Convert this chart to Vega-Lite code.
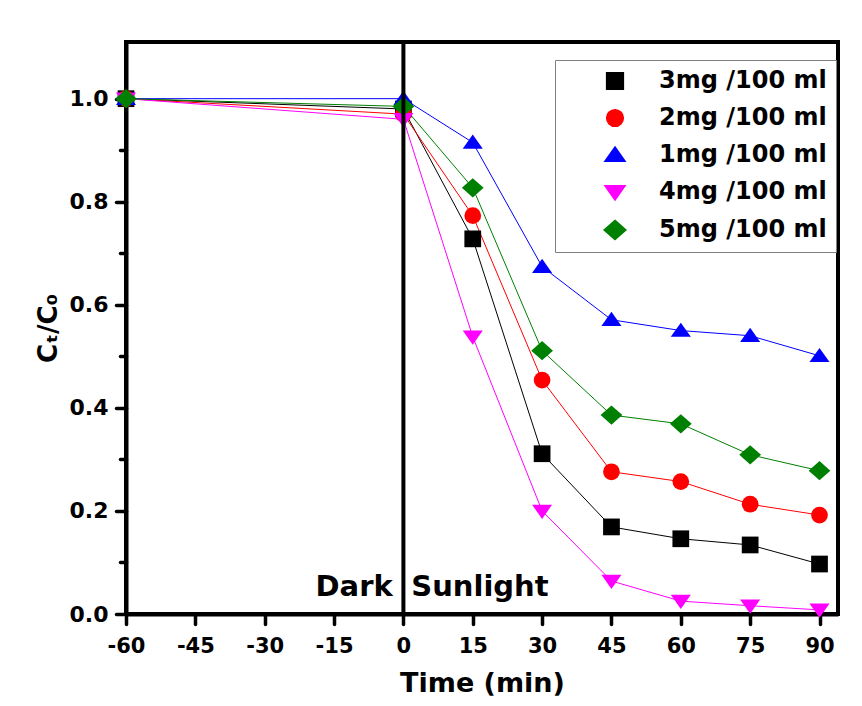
{
  "$schema": "https://vega.github.io/schema/vega-lite/v6.json",
  "width": 712,
  "height": 572,
  "autosize": "none",
  "padding": {"left": 126, "top": 42, "right": 24, "bottom": 92},
  "background": "white",
  "config": {
    "view": {"stroke": "black", "strokeWidth": 4},
    "font": "DejaVu Sans",
    "axis": {
      "domainColor": "black",
      "domainWidth": 4,
      "tickColor": "black",
      "tickWidth": 3.5,
      "tickCap": "round",
      "labelFont": "DejaVu Sans",
      "labelFontWeight": "bold",
      "labelColor": "black",
      "titleFont": "DejaVu Sans",
      "titleFontWeight": "bold",
      "titleColor": "black",
      "grid": false,
      "labelOverlap": false,
      "labelFlush": false
    }
  },
  "datasets": {
    "series": [
      {"t": -60, "c": 1.0, "s": "3mg /100 ml"},
      {"t": 0, "c": 0.98, "s": "3mg /100 ml"},
      {"t": 15, "c": 0.728, "s": "3mg /100 ml"},
      {"t": 30, "c": 0.311, "s": "3mg /100 ml"},
      {"t": 45, "c": 0.169, "s": "3mg /100 ml"},
      {"t": 60, "c": 0.146, "s": "3mg /100 ml"},
      {"t": 75, "c": 0.134, "s": "3mg /100 ml"},
      {"t": 90, "c": 0.097, "s": "3mg /100 ml"},
      {"t": -60, "c": 1.0, "s": "2mg /100 ml"},
      {"t": 0, "c": 0.97, "s": "2mg /100 ml"},
      {"t": 15, "c": 0.773, "s": "2mg /100 ml"},
      {"t": 30, "c": 0.454, "s": "2mg /100 ml"},
      {"t": 45, "c": 0.276, "s": "2mg /100 ml"},
      {"t": 60, "c": 0.257, "s": "2mg /100 ml"},
      {"t": 75, "c": 0.213, "s": "2mg /100 ml"},
      {"t": 90, "c": 0.192, "s": "2mg /100 ml"},
      {"t": -60, "c": 1.0, "s": "1mg /100 ml"},
      {"t": 0, "c": 1.0, "s": "1mg /100 ml"},
      {"t": 15, "c": 0.915, "s": "1mg /100 ml"},
      {"t": 30, "c": 0.674, "s": "1mg /100 ml"},
      {"t": 45, "c": 0.571, "s": "1mg /100 ml"},
      {"t": 60, "c": 0.55, "s": "1mg /100 ml"},
      {"t": 75, "c": 0.54, "s": "1mg /100 ml"},
      {"t": 90, "c": 0.501, "s": "1mg /100 ml"},
      {"t": -60, "c": 1.0, "s": "4mg /100 ml"},
      {"t": 0, "c": 0.96, "s": "4mg /100 ml"},
      {"t": 15, "c": 0.538, "s": "4mg /100 ml"},
      {"t": 30, "c": 0.2, "s": "4mg /100 ml"},
      {"t": 45, "c": 0.064, "s": "4mg /100 ml"},
      {"t": 60, "c": 0.025, "s": "4mg /100 ml"},
      {"t": 75, "c": 0.016, "s": "4mg /100 ml"},
      {"t": 90, "c": 0.008, "s": "4mg /100 ml"},
      {"t": -60, "c": 1.0, "s": "5mg /100 ml"},
      {"t": 0, "c": 0.985, "s": "5mg /100 ml"},
      {"t": 15, "c": 0.827, "s": "5mg /100 ml"},
      {"t": 30, "c": 0.511, "s": "5mg /100 ml"},
      {"t": 45, "c": 0.386, "s": "5mg /100 ml"},
      {"t": 60, "c": 0.369, "s": "5mg /100 ml"},
      {"t": 75, "c": 0.309, "s": "5mg /100 ml"},
      {"t": 90, "c": 0.278, "s": "5mg /100 ml"}
    ],
    "notes": [
      {"label": "Dark", "side": "left"},
      {"label": "Sunlight", "side": "right"}
    ]
  },
  "layer": [
    {
      "data": {"name": "notes"},
      "transform": [{"filter": "datum.side == 'left'"}],
      "mark": {"type": "text", "align": "right", "baseline": "alphabetic", "font": "DejaVu Sans", "fontWeight": "bold", "fontSize": 29, "fill": "black"},
      "encoding": {
        "x": {"datum": -2.3, "type": "quantitative", "scale": {"domain": [-60, 94], "nice": false, "zero": false}},
        "y": {"datum": 0.034, "type": "quantitative", "scale": {"domain": [0, 1.11], "nice": false, "zero": false}},
        "text": {"field": "label"}
      }
    },
    {
      "data": {"name": "notes"},
      "transform": [{"filter": "datum.side == 'right'"}],
      "mark": {"type": "text", "align": "left", "baseline": "alphabetic", "font": "DejaVu Sans", "fontWeight": "bold", "fontSize": 29, "fill": "black"},
      "encoding": {
        "x": {"datum": 1.7, "type": "quantitative"},
        "y": {"datum": 0.034, "type": "quantitative"},
        "text": {"field": "label"}
      }
    },
    {
      "data": {"name": "series"},
      "mark": {"type": "line", "strokeWidth": 1},
      "encoding": {
        "x": {
          "field": "t",
          "type": "quantitative",
          "axis": {
            "title": "Time (min)",
            "titleFontSize": 27,
            "titlePadding": 14,
            "labelFontSize": 21,
            "labelPadding": 11,
            "values": [-60, -52.5, -45, -37.5, -30, -22.5, -15, -7.5, 0, 7.5, 15, 22.5, 30, 37.5, 45, 52.5, 60, 67.5, 75, 82.5, 90],
            "labelExpr": "datum.value % 15 == 0 ? '' + datum.value : ''",
            "tickSize": {"condition": {"test": "datum.value % 15 == 0", "value": 10}, "value": 6}
          }
        },
        "y": {
          "field": "c",
          "type": "quantitative",
          "axis": {
            "title": "Cₜ/C₀",
            "titleFontSize": 26,
            "titlePadding": 8,
            "labelFontSize": 22,
            "labelPadding": 8,
            "values": [0, 0.1, 0.2, 0.3, 0.4, 0.5, 0.6, 0.7, 0.8, 0.9, 1.0],
            "labelExpr": "round(datum.value * 10) % 2 == 0 ? format(datum.value, '.1f') : ''",
            "tickSize": {"condition": {"test": "round(datum.value * 10) % 2 == 0", "value": 10}, "value": 6}
          }
        },
        "color": {
          "field": "s",
          "type": "nominal",
          "scale": {
            "domain": ["3mg /100 ml", "2mg /100 ml", "1mg /100 ml", "4mg /100 ml", "5mg /100 ml"],
            "range": ["#000000", "#ff0000", "#0000ff", "#ff00ff", "#008000"]
          }
        }
      }
    },
    {
      "data": {"name": "series"},
      "mark": {"type": "point", "filled": true, "opacity": 1, "size": 280},
      "encoding": {
        "x": {"field": "t", "type": "quantitative"},
        "y": {"field": "c", "type": "quantitative"},
        "color": {
          "field": "s",
          "type": "nominal",
          "legend": {
            "title": null,
            "orient": "none",
            "legendX": 429,
            "legendY": 18,
            "padding": 9,
            "strokeColor": "#808080",
            "fillColor": "white",
            "labelFont": "DejaVu Sans",
            "labelFontWeight": "bold",
            "labelFontSize": 24,
            "labelColor": "black",
            "labelLimit": 400,
            "labelOffset": 32,
            "symbolOffset": 39,
            "symbolSize": 280,
            "rowPadding": 13
          }
        },
        "shape": {
          "field": "s",
          "type": "nominal",
          "scale": {
            "domain": ["3mg /100 ml", "2mg /100 ml", "1mg /100 ml", "4mg /100 ml", "5mg /100 ml"],
            "range": ["square", "circle", "M0,-0.95L1.2,0.75L-1.2,0.75Z", "M0,0.95L1.2,-0.75L-1.2,-0.75Z", "M0,-1.15L1.3,0L0,1.15L-1.3,0Z"]
          }
        }
      }
    },
    {
      "data": {"values": [{}]},
      "mark": {"type": "rule", "color": "black", "strokeWidth": 4},
      "encoding": {"x": {"datum": 0, "type": "quantitative"}}
    }
  ]
}
